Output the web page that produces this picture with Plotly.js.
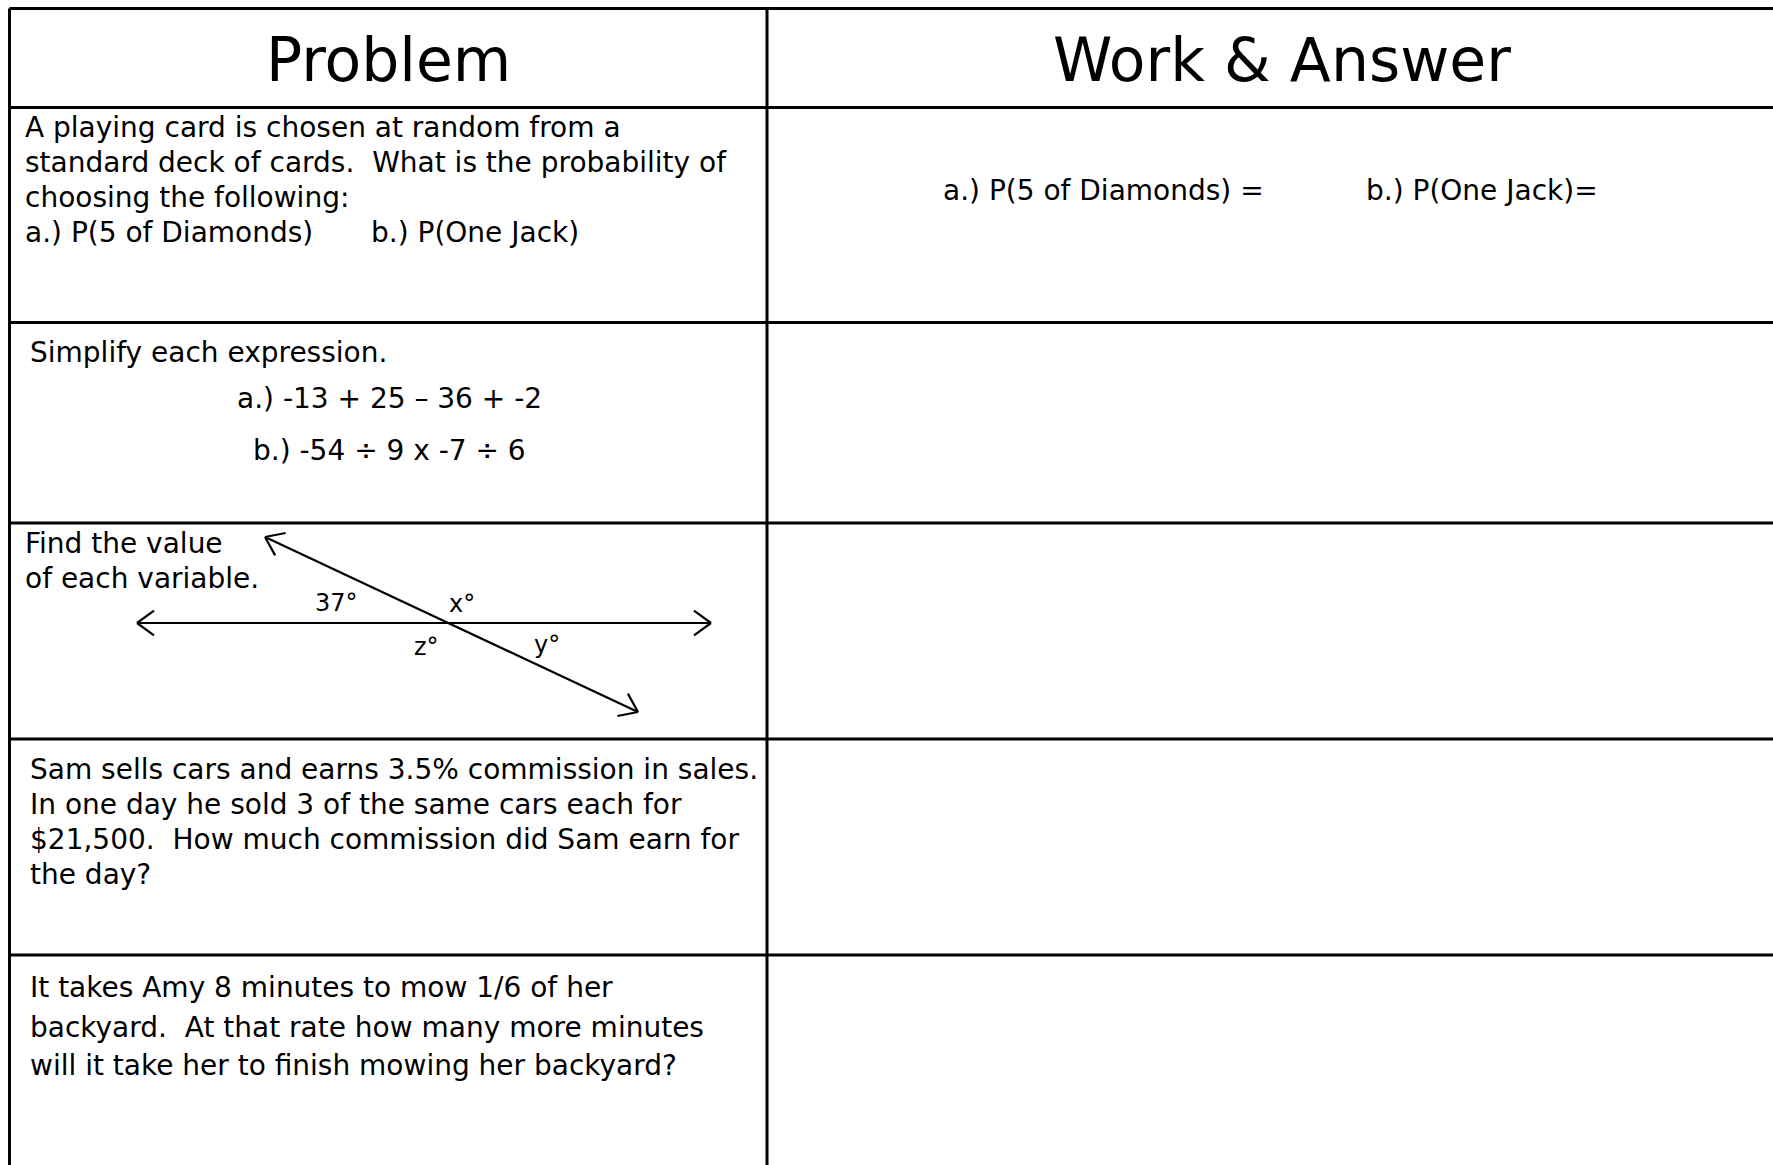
<!DOCTYPE html>
<html><head><meta charset="utf-8">
<script src="https://cdn.plot.ly/plotly-3.0.1.min.js"></script>
<style>html,body{margin:0;padding:0;background:#fff;overflow:hidden}</style>
</head><body><div id="chart" style="width:1773px;height:1165px"></div>
<script>
// ---- content ----
const columnHeaders = ["Problem", "Work & Answer"];
const problem1Lines = ["A playing card is chosen at random from a", "standard deck of cards.  What is the probability of", "choosing the following:"];
const problem1Parts = ["a.) P(5 of Diamonds)", "b.) P(One Jack)"];
const answer1Parts = ["a.) P(5 of Diamonds) =", "b.) P(One Jack)="];
const problem2Title = ["Simplify each expression."];
const problem2Expressions = ["a.) -13 + 25 \u2013 36 + -2", "b.) -54 \u00f7 9 x -7 \u00f7 6"];
const problem3Lines = ["Find the value", "of each variable."];
const angleLabels = ["37\u00b0", "x\u00b0", "z\u00b0", "y\u00b0"];
const problem4Lines = ["Sam sells cars and earns 3.5% commission in sales.", "In one day he sold 3 of the same cars each for", "$21,500.  How much commission did Sam earn for", "the day?"];
const problem5Lines = ["It takes Amy 8 minutes to mow 1/6 of her", "backyard.  At that rate how many more minutes", "will it take her to finish mowing her backyard?"];
// diagram geometry (page pixel units)
const diagramHorizontalX = [137, 711];
const diagramHorizontalY = [623, 623];
const diagramDiagonalX = [265, 638];
const diagramDiagonalY = [537, 712];

// ---- layout constants ----
const W = 1773, H = 1165;
const FONT = "'DejaVu Sans', Verdana, sans-serif";
const bodySize = 28, headSize = 60, labelSize = 24;
const rowLinesY = [8.5, 107.5, 322.5, 523, 739, 955];
const colLinesX = [9.5, 767];

function yMid(baseline, size) { return baseline - 0.346 * size; }
const annotations = [];
function addText(t, x, baseline, size, anchor) {
  annotations.push({text: t, x: x, y: yMid(baseline, size), xref: 'x', yref: 'y',
    xanchor: anchor || 'left', yanchor: 'middle', showarrow: false, borderpad: 0, borderwidth: 0,
    font: {family: FONT, size: size, color: '#000'}});
}

addText(columnHeaders[0], 388, 81, headSize, 'center');
addText(columnHeaders[1], 1282, 81, headSize, 'center');

[137, 172, 207].forEach((b, i) => addText(problem1Lines[i], 25, b, bodySize));
addText(problem1Parts[0], 25, 242, bodySize);
addText(problem1Parts[1], 371, 242, bodySize);
addText(answer1Parts[0], 943, 200, bodySize);
addText(answer1Parts[1], 1366, 200, bodySize);

addText(problem2Title[0], 30, 362, bodySize);
[408, 460].forEach((b, i) => addText(problem2Expressions[i], 389, b, bodySize, 'center'));

[553, 588].forEach((b, i) => addText(problem3Lines[i], 25, b, bodySize));
const labelPos = [[336, 611], [462, 612], [426, 655], [547, 653]];
labelPos.forEach((p, i) => addText(angleLabels[i], p[0], p[1], labelSize, 'center'));

[779, 814, 849, 884].forEach((b, i) => addText(problem4Lines[i], 30, b, bodySize));
[997, 1037, 1075].forEach((b, i) => addText(problem5Lines[i], 30, b, bodySize));

// grid shapes
const shapes = [];
rowLinesY.forEach(y => shapes.push({type: 'line', xref: 'x', yref: 'y', x0: colLinesX[0], x1: W + 20, y0: y, y1: y, line: {color: '#000', width: 3}}));
colLinesX.forEach(x => shapes.push({type: 'line', xref: 'x', yref: 'y', x0: x, x1: x, y0: rowLinesY[0], y1: H + 20, line: {color: '#000', width: 3}}));

// diagram traces with open chevron arrowheads
function withChevrons(xs, ys) {
  const L = 21, ang = 36 * Math.PI / 180;
  const outX = [xs[0], xs[1], null], outY = [ys[0], ys[1], null];
  [[0, 1], [1, 0]].forEach(([t, f]) => {
    const dx = xs[t] - xs[f], dy = ys[t] - ys[f], len = Math.hypot(dx, dy);
    const ux = dx / len, uy = dy / len;
    [ang, -ang].forEach(a => {
      const rx = ux * Math.cos(a) - uy * Math.sin(a), ry = ux * Math.sin(a) + uy * Math.cos(a);
      outX.push(xs[t] - L * rx, xs[t], null);
      outY.push(ys[t] - L * ry, ys[t], null);
    });
  });
  return {x: outX, y: outY};
}
const hz = withChevrons(diagramHorizontalX, diagramHorizontalY);
const dg = withChevrons(diagramDiagonalX, diagramDiagonalY);
const traces = [
  {type: 'scatter', mode: 'lines', x: hz.x, y: hz.y, line: {color: '#000', width: 2.2}, hoverinfo: 'skip', showlegend: false},
  {type: 'scatter', mode: 'lines', x: dg.x, y: dg.y, line: {color: '#000', width: 2.2}, hoverinfo: 'skip', showlegend: false}
];

const layout = {
  width: W, height: H, margin: {l: 0, r: 0, t: 0, b: 0, pad: 0},
  paper_bgcolor: '#fff', plot_bgcolor: '#fff', showlegend: false,
  xaxis: {range: [0, W], visible: false, fixedrange: true},
  yaxis: {range: [H, 0], visible: false, fixedrange: true},
  shapes: shapes, annotations: annotations
};
Plotly.newPlot('chart', traces, layout, {displayModeBar: false, staticPlot: true});
</script></body></html>
